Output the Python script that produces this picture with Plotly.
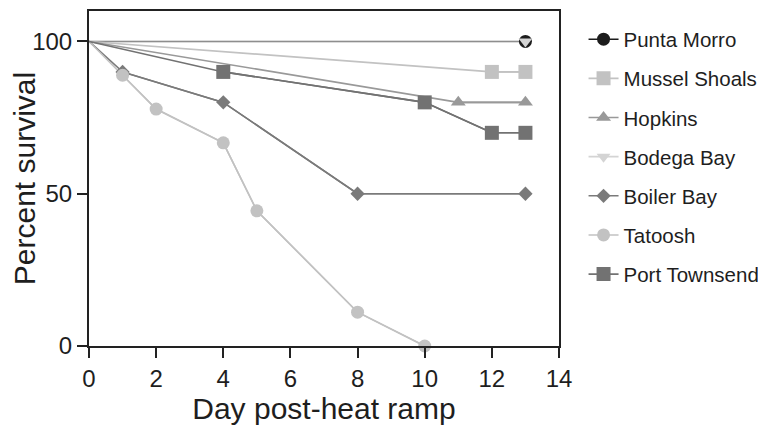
import plotly.graph_objects as go

names = ["Punta Morro", "Mussel Shoals", "Hopkins", "Bodega Bay", "Boiler Bay", "Tatoosh", "Port Townsend"]
days = {
    "Punta Morro": [0, 13],
    "Mussel Shoals": [0, 12, 13],
    "Hopkins": [0, 11, 13],
    "Bodega Bay": [0, 13],
    "Boiler Bay": [0, 1, 4, 8, 13],
    "Tatoosh": [0, 1, 2, 4, 5, 8, 10],
    "Port Townsend": [0, 4, 10, 12, 13],
}
survival = {
    "Punta Morro": [100, 100],
    "Mussel Shoals": [100, 90, 90],
    "Hopkins": [100, 80, 80],
    "Bodega Bay": [100, 100],
    "Boiler Bay": [100, 90, 80, 50, 50],
    "Tatoosh": [100, 88.9, 77.8, 66.7, 44.4, 11.1, 0],
    "Port Townsend": [100, 90, 80, 70, 70],
}
colors = {
    "Punta Morro": "#1c1c1c",
    "Mussel Shoals": "#c2c2c2",
    "Hopkins": "#999999",
    "Bodega Bay": "#d4d4d4",
    "Boiler Bay": "#7a7a7a",
    "Tatoosh": "#c2c2c2",
    "Port Townsend": "#727272",
}
line_colors = dict(colors)
line_colors["Punta Morro"] = "#8e8e8e"
symbols = {
    "Punta Morro": "circle",
    "Mussel Shoals": "square",
    "Hopkins": "triangle-up",
    "Bodega Bay": "triangle-down",
    "Boiler Bay": "diamond",
    "Tatoosh": "circle",
    "Port Townsend": "square",
}
sizes = {
    "Punta Morro": 13,
    "Mussel Shoals": 14,
    "Hopkins": 13,
    "Bodega Bay": 12,
    "Boiler Bay": 11,
    "Tatoosh": 13,
    "Port Townsend": 14,
}

fig = go.Figure()
# connecting lines (including day 0, which has no marker)
for n in ["Bodega Bay"] + [m for m in names if m != "Bodega Bay"]:
    fig.add_trace(go.Scatter(
        x=days[n], y=survival[n], mode="lines",
        line=dict(color=line_colors[n], width=1.6),
        showlegend=False, hoverinfo="skip", cliponaxis=False,
    ))
# markers (from day 1 onward) with legend entries
for i, n in enumerate(names):
    fig.add_trace(go.Scatter(
        x=days[n][1:], y=survival[n][1:], name=n, mode="lines+markers",
        line=dict(color=colors[n], width=1.6),
        marker=dict(symbol=symbols[n], size=sizes[n], color=colors[n], line=dict(width=0)),
        cliponaxis=False,
        legendgroup=str(i),
    ))

fig.update_layout(
    width=758, height=424,
    margin=dict(l=81, r=206, t=3, b=86),
    paper_bgcolor="white", plot_bgcolor="white",
    font=dict(family="Liberation Sans, Arial, sans-serif", color="#1e1e1e"),
    showlegend=True,
    legend=dict(x=1.05, y=0.975, xanchor="left", yanchor="top",
                font=dict(size=20.5, color="#1e1e1e"), tracegroupgap=9.5,
                itemsizing="trace", bgcolor="rgba(0,0,0,0)"),
    xaxis=dict(range=[0, 14], tickvals=[0, 2, 4, 6, 8, 10, 12, 14],
               showline=True, linecolor="#222", linewidth=2, mirror=True,
               ticks="outside", ticklen=10, tickwidth=1.5, tickcolor="#222",
               showgrid=False, zeroline=False, automargin=False,
               tickfont=dict(size=24),
               title=dict(text="Day post-heat ramp", font=dict(size=30), standoff=6)),
    yaxis=dict(range=[0, 110], tickvals=[0, 50, 100],
               showline=True, linecolor="#222", linewidth=2, mirror=True,
               ticks="outside", ticklen=10, tickwidth=1.5, tickcolor="#222",
               showgrid=False, zeroline=False, automargin=False,
               tickfont=dict(size=24),
               title=dict(text="Percent survival", font=dict(size=30), standoff=4)),
)

fig.write_html("out.html")
